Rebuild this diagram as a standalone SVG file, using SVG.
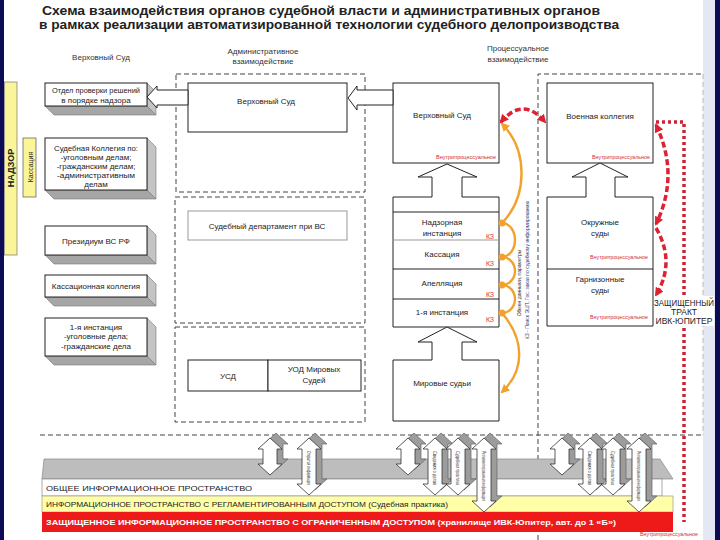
<svg xmlns="http://www.w3.org/2000/svg" width="720" height="540" viewBox="0 0 720 540">
<style>
text{font-family:"Liberation Sans",Arial,sans-serif;fill:#222}
.t{font-size:8px;text-anchor:middle}
.h{font-size:8px;text-anchor:middle;fill:#333}
.box{fill:#fff;stroke:#222;stroke-width:1}
.gbox{fill:#fff;stroke:#999;stroke-width:1}
.side{fill:#c4c4c4;stroke:#777;stroke-width:0.6}
.bot{fill:#a6a6a6;stroke:#777;stroke-width:0.6}
.dash{fill:none;stroke:#444;stroke-width:1;stroke-dasharray:5 3}
.red{font-size:5px;fill:#d23030;text-anchor:end}
.kz{font-size:7px;fill:#e03030;text-anchor:middle}
.orange{fill:none;stroke:#f2a22c;stroke-width:2.4}
.rdash{fill:none;stroke:#dd2233;stroke-width:3.5;stroke-dasharray:6 3}
.rdot{fill:none;stroke:#cc2233;stroke-width:3.5;stroke-dasharray:3 3}
.aback{fill:#9c9c9c;stroke:#666;stroke-width:0.7}
.afront{fill:#fff;stroke:#333;stroke-width:0.8}
.at{font-size:5px;fill:#333}
</style>
<defs>
<marker id="mo" markerWidth="9" markerHeight="9" refX="7" refY="4.5" orient="auto" markerUnits="userSpaceOnUse"><path d="M0,0 L9,4.5 L0,9 z" fill="#f2a22c"/></marker>
<marker id="mr" markerWidth="9" markerHeight="9" refX="7" refY="4.5" orient="auto" markerUnits="userSpaceOnUse"><path d="M0,0 L9,4.5 L0,9 z" fill="#dd2233"/></marker>
<marker id="mrs" markerWidth="9" markerHeight="9" refX="2" refY="4.5" orient="auto" markerUnits="userSpaceOnUse"><path d="M9,0 L0,4.5 L9,9 z" fill="#dd2233"/></marker>
<path id="das" d="M0,0 L12,11 L7,11 L7,26 L12,26 L0,37 L-12,26 L-7,26 L-7,11 L-12,11 Z"/>
<path id="dam" d="M0,0 L12,11 L7,11 L7,46 L12,46 L0,57 L-12,46 L-7,46 L-7,11 L-12,11 Z"/>
<path id="dal" d="M0,0 L12,11 L7,11 L7,63 L12,63 L0,74 L-12,63 L-7,63 L-7,11 L-12,11 Z"/>
</defs>

<rect x="0" y="0" width="720" height="540" fill="#fff"/>
<rect x="0" y="0" width="4" height="540" fill="#0c0c54"/>
<rect x="703" y="0" width="12" height="540" fill="#e4e8f2"/>
<rect x="715" y="0" width="5" height="540" fill="#0c0c54"/>

<g id="title">
<text x="321" y="15" font-size="13.5" font-weight="bold" text-anchor="middle" textLength="558" lengthAdjust="spacingAndGlyphs">Схема взаимодействия органов судебной власти и административных органов</text>
<text x="329" y="29" font-size="13" font-weight="bold" text-anchor="middle" textLength="580" lengthAdjust="spacingAndGlyphs">в рамках реализации автоматизированной технологии судебного делопроизводства</text>
</g>

<g id="headings">
<text class="h" x="101" y="60">Верховный Суд</text>
<text class="h" x="263" y="54">Административное</text>
<text class="h" x="263" y="64">взаимодействие</text>
<text class="h" x="518" y="51">Процессуальное</text>
<text class="h" x="518" y="62">взаимодействие</text>
</g>

<g id="nadzor">
<rect x="4.5" y="82" width="12.5" height="173" fill="#fbf59a" stroke="#777" stroke-width="0.7"/>
<text x="0" y="0" font-size="9" font-weight="bold" text-anchor="middle" transform="translate(14,168) rotate(-90)">НАДЗОР</text>
</g>
<g id="kassaciya-tag">
<rect x="23" y="138" width="13" height="59" fill="#fbf59a" stroke="#555" stroke-width="0.7"/>
<text x="0" y="0" font-size="7" text-anchor="middle" transform="translate(32.5,167) rotate(-90)">Кассация</text>
</g>

<g id="otdel">
<polygon class="side" points="147,83 156,92 156,115 147,106"/>
<polygon class="bot" points="45,106 54,115 156,115 147,106"/>
<rect class="box" x="45" y="83" width="102" height="23"/>
<text class="t" x="96" y="93" textLength="88" lengthAdjust="spacingAndGlyphs">Отдел проверки решений</text>
<text class="t" x="96" y="103">в порядке надзора</text>
</g>
<g id="kollegiya">
<polygon class="side" points="147,138 156,147 156,199 147,190"/>
<polygon class="bot" points="45,190 54,199 156,199 147,190"/>
<rect class="box" x="45" y="138" width="102" height="52"/>
<text class="t" x="96" y="151" textLength="84" lengthAdjust="spacingAndGlyphs">Судебная Коллегия по:</text>
<text class="t" x="96" y="160">-уголовным делам;</text>
<text class="t" x="96" y="169">-гражданским делам;</text>
<text class="t" x="96" y="178" textLength="78" lengthAdjust="spacingAndGlyphs">-административным</text>
<text class="t" x="96" y="187">делам</text>
</g>
<g id="prezidium">
<polygon class="side" points="147,226 156,235 156,264 147,255"/>
<polygon class="bot" points="45,255 54,264 156,264 147,255"/>
<rect class="box" x="45" y="226" width="102" height="29"/>
<text class="t" x="96" y="244">Президиум ВС РФ</text>
</g>
<g id="kass-kollegiya">
<polygon class="side" points="147,275 156,284 156,306 147,297"/>
<polygon class="bot" points="45,297 54,306 156,306 147,297"/>
<rect class="box" x="45" y="275" width="102" height="22"/>
<text class="t" x="96" y="289">Кассационная коллегия</text>
</g>
<g id="instanciya1">
<polygon class="side" points="147,318 156,327 156,365 147,356"/>
<polygon class="bot" points="45,356 54,365 156,365 147,356"/>
<rect class="box" x="45" y="318" width="102" height="38"/>
<text class="t" x="96" y="330">1-я инстанция</text>
<text class="t" x="96" y="339">-уголовные дела;</text>
<text class="t" x="96" y="349">-гражданские дела</text>
</g>

<g id="admin-a">
<rect class="dash" x="176" y="74" width="189" height="118"/>
<rect class="box" x="188" y="83" width="159" height="49"/>
<text class="t" x="266" y="104">Верховный Суд</text>
</g>
<g id="admin-b">
<rect class="dash" x="175" y="197" width="190" height="126"/>
<rect class="gbox" x="188" y="211" width="159" height="29"/>
<text class="t" x="267" y="229">Судебный департамент при ВС</text>
</g>
<g id="admin-c">
<rect class="dash" x="175" y="327" width="190" height="95"/>
<rect class="box" x="188" y="360" width="80" height="31"/>
<rect class="box" x="268" y="360" width="93" height="31"/>
<text class="t" x="228" y="379">УСД</text>
<text class="t" x="314" y="372">УОД Мировых</text>
<text class="t" x="314" y="383">Судей</text>
</g>

<g id="vs-process">
<rect class="box" x="393" y="83" width="106" height="80"/>
<text class="t" x="442" y="118">Верховный Суд</text>
<text class="red" x="496" y="159" textLength="60" lengthAdjust="spacingAndGlyphs">Внутрипроцессуальное</text>
</g>
<g id="instances">
<path class="box" d="M432,197 H393 V327 H499 V197 H462"/>
<line x1="393" y1="212" x2="499" y2="212" stroke="#222"/>
<line x1="393" y1="240" x2="499" y2="240" stroke="#999"/>
<line x1="393" y1="269" x2="499" y2="269" stroke="#222"/>
<line x1="393" y1="299" x2="499" y2="299" stroke="#222"/>
<text class="t" x="442" y="225">Надзорная</text>
<text class="t" x="442" y="236">инстанция</text>
<text class="t" x="442" y="257">Кассация</text>
<text class="t" x="442" y="286">Апелляция</text>
<text class="t" x="442" y="315">1-я инстанция</text>
<text class="kz" x="490" y="239">КЗ</text>
<text class="kz" x="490" y="266">КЗ</text>
<text class="kz" x="490" y="297">КЗ</text>
<text class="kz" x="490" y="322">КЗ</text>
</g>
<g id="mirovye">
<path class="box" d="M432,360 H393 V421 H499 V360 H462"/>
<text class="t" x="442" y="386">Мировые судьи</text>
</g>

<g id="military-frame">
<path class="dash" d="M538,540 V74 H703"/>
<line x1="703" y1="74" x2="703" y2="435" stroke="#bbb" stroke-width="1" stroke-dasharray="5 3"/>
</g>
<g id="voennaya">
<rect class="box" x="547" y="83" width="106" height="80"/>
<text class="t" x="600" y="119">Военная коллегия</text>
<text class="red" x="650" y="159" textLength="58" lengthAdjust="spacingAndGlyphs">Внутрипроцессуальное</text>
</g>
<g id="okruzhnye">
<path class="box" d="M586,197 H547 V326 H653 V197 H615"/>
<line x1="547" y1="269" x2="653" y2="269" stroke="#222"/>
<text class="t" x="600" y="225">Окружные</text>
<text class="t" x="600" y="236">суды</text>
<text class="red" x="648" y="259" textLength="58" lengthAdjust="spacingAndGlyphs">Внутрипроцессуальное</text>
<text class="t" x="600" y="282">Гарнизонные</text>
<text class="t" x="600" y="293">суды</text>
<text class="red" x="648" y="319" textLength="58" lengthAdjust="spacingAndGlyphs">Внутрипроцессуальное</text>
</g>

<line class="dash" x1="40" y1="435" x2="703" y2="435"/>

<g id="connectors">
<polygon fill="#fff" stroke="#222" stroke-width="1" points="147,97 157,86 157,90 188,90 188,105 157,105 157,108"/>
<polygon fill="#fff" stroke="#222" stroke-width="1" points="348,98 357,86 357,90 393,90 393,105 357,105 357,110"/>
<polygon fill="#fff" stroke="none" points="447,164 477,177 462,177 462,198 432,198 432,177 418,177"/>
<polyline fill="none" stroke="#222" points="462,197 462,177 477,177 447,164 418,177 432,177 432,197"/>
<polygon fill="#fff" stroke="none" points="447,327 477,342 462,342 462,361 432,361 432,342 418,342"/>
<polyline fill="none" stroke="#222" points="462,360 462,342 477,342 447,327 418,342 432,342 432,360"/>
<polygon fill="#fff" stroke="none" points="600,163 628,177 615,177 615,198 586,198 586,177 572,177"/>
<polyline fill="none" stroke="#222" points="615,197 615,177 628,177 600,163 572,177 586,177 586,197"/>

<path class="orange" d="M502,223 C528,196 528,150 502,124" marker-end="url(#mo)"/>
<path class="orange" d="M502,223 A13,17 0 0 1 502,257"/>
<path class="orange" d="M502,257 A13,14 0 0 1 502,285"/>
<path class="orange" d="M502,285 A13,14 0 0 1 502,313"/>
<path class="orange" d="M502,313 C525,340 525,370 502,392" marker-end="url(#mo)"/>
<circle cx="502" cy="223" r="3.5" fill="#f2a22c"/>
<circle cx="502" cy="257" r="3.5" fill="#f2a22c"/>
<circle cx="502" cy="285" r="3.5" fill="#f2a22c"/>
<circle cx="502" cy="313" r="3.5" fill="#f2a22c"/>

<path class="rdash" d="M501,122 Q523,96 545,122" marker-start="url(#mrs)" marker-end="url(#mr)"/>
<path class="rdash" d="M656,125 Q680,175 656,224" marker-start="url(#mrs)" marker-end="url(#mr)"/>
<path class="rdash" d="M656,228 Q676,262 656,295" marker-end="url(#mr)"/>
<path class="rdot" d="M656,122 H684 V522"/>
</g>

<g id="vtext">
<text class="at" x="0" y="0" font-size="5.5" text-anchor="middle" transform="translate(521,283) rotate(-90)">Обмен данными, параметры</text>
<text class="at" x="0" y="0" font-size="5.5" text-anchor="middle" style="fill:#2a3d80" transform="translate(529,270) rotate(-90)">КЗ - Поиск ЭЦП, Гос. заказ по судебному информированию</text>
</g>

<g id="trakt">
<rect x="654" y="296" width="60" height="30" fill="#fff"/>
<text x="684" y="306" font-size="8.5" text-anchor="middle" textLength="60" lengthAdjust="spacingAndGlyphs">ЗАЩИЩЕННЫЙ</text>
<text x="684" y="315" font-size="8.5" text-anchor="middle">ТРАКТ</text>
<text x="684" y="324" font-size="8.5" text-anchor="middle">ИВК-ЮПИТЕР</text>
</g>

<g id="info-bands">
<polygon points="44,459 660,459 673,479 42,479" fill="#bdbdbd" stroke="#888" stroke-width="0.7"/>
<rect x="42" y="479" width="620" height="17" fill="#fff" stroke="#888" stroke-width="0.7"/>
<text x="46" y="491" font-size="8" textLength="206" lengthAdjust="spacingAndGlyphs">ОБЩЕЕ ИНФОРМАЦИОННОЕ ПРОСТРАНСТВО</text>
<rect x="42" y="496" width="631" height="16" fill="#ffffa8" stroke="#999" stroke-width="0.7"/>
<text x="46" y="507" font-size="8" textLength="402" lengthAdjust="spacingAndGlyphs">ИНФОРМАЦИОННОЕ ПРОСТРАНСТВО С РЕГЛАМЕНТИРОВАННЫМ ДОСТУПОМ (Судебная практика)</text>
<rect x="42" y="512" width="631" height="20" fill="#ee1a1a"/>
<text x="46" y="525" font-size="8" font-weight="bold" style="fill:#fff" textLength="570" lengthAdjust="spacingAndGlyphs">ЗАЩИЩЕННОЕ ИНФОРМАЦИОННОЕ ПРОСТРАНСТВО С ОГРАНИЧЕННЫМ ДОСТУПОМ (хранилище ИВК-Юпитер, авт. до 1 «Б»)</text>
<text class="red" x="698" y="536" textLength="58" lengthAdjust="spacingAndGlyphs">Внутрипроцессуальное</text>
</g>

<g id="data-arrows">
<use href="#das" class="aback" x="276" y="433"/><use href="#das" class="afront" x="270" y="438"/>
<use href="#dam" class="aback" x="315" y="433"/><use href="#dam" class="afront" x="309" y="438"/>
<text class="at" transform="translate(307,451) rotate(90)" textLength="34" lengthAdjust="spacingAndGlyphs">Открытая информация</text>
<use href="#das" class="aback" x="414" y="433"/><use href="#das" class="afront" x="408" y="438"/>
<use href="#dam" class="aback" x="441" y="433"/><use href="#dam" class="afront" x="435" y="438"/>
<text class="at" transform="translate(433,451) rotate(90)" textLength="34" lengthAdjust="spacingAndGlyphs">Сведения о делах</text>
<use href="#dam" class="aback" x="464" y="433"/><use href="#dam" class="afront" x="458" y="438"/>
<text class="at" transform="translate(456,451) rotate(90)" textLength="34" lengthAdjust="spacingAndGlyphs">Судебная практика</text>
<use href="#dal" class="aback" x="490" y="433"/><use href="#dal" class="afront" x="484" y="438"/>
<text class="at" transform="translate(482,451) rotate(90)" textLength="50" lengthAdjust="spacingAndGlyphs">Регламентированная информация</text>
<use href="#das" class="aback" x="568" y="433"/><use href="#das" class="afront" x="562" y="438"/>
<use href="#dam" class="aback" x="596" y="433"/><use href="#dam" class="afront" x="590" y="438"/>
<text class="at" transform="translate(588,451) rotate(90)" textLength="34" lengthAdjust="spacingAndGlyphs">Сведения о делах</text>
<use href="#dam" class="aback" x="619" y="433"/><use href="#dam" class="afront" x="613" y="438"/>
<text class="at" transform="translate(611,451) rotate(90)" textLength="34" lengthAdjust="spacingAndGlyphs">Судебная практика</text>
<use href="#dal" class="aback" x="645" y="433"/><use href="#dal" class="afront" x="639" y="438"/>
<text class="at" transform="translate(637,451) rotate(90)" textLength="50" lengthAdjust="spacingAndGlyphs">Регламентированная информация</text>
</g>
</svg>
